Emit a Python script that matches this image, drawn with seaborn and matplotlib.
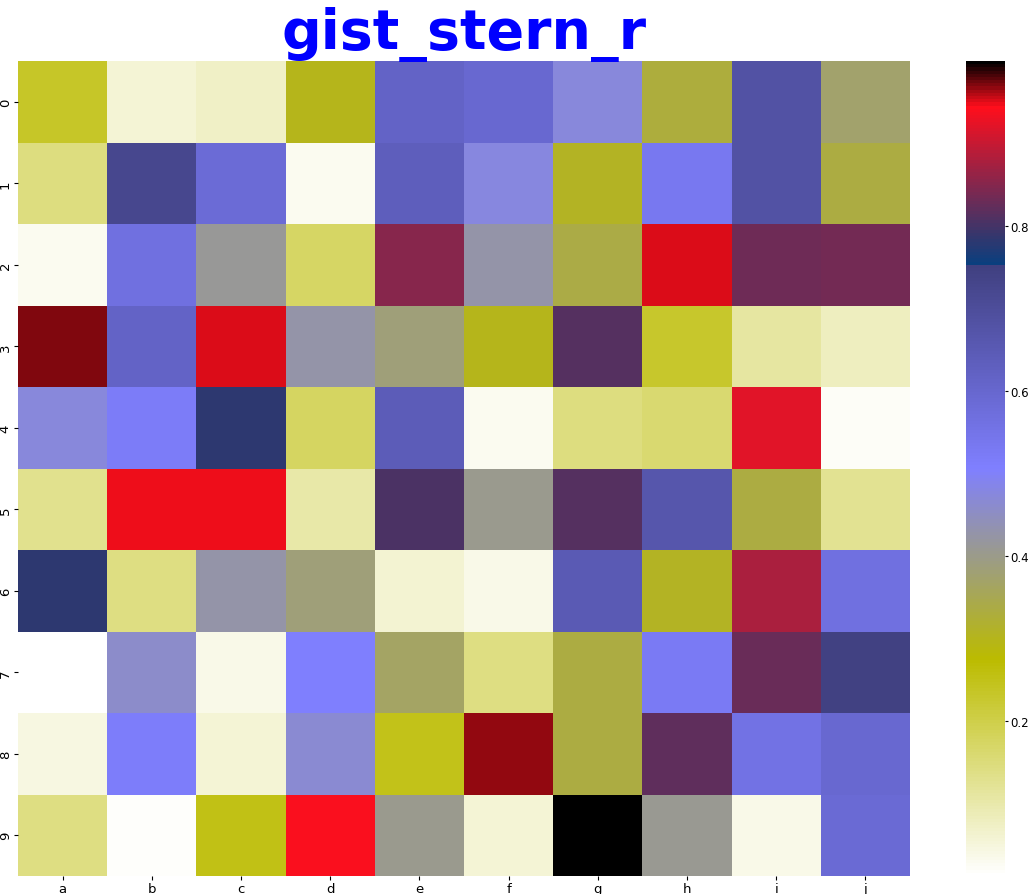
import numpy as np
import pandas as pd
import matplotlib
matplotlib.use("Agg")
import matplotlib.pyplot as plt
import seaborn as sns

cols = list("abcdefghij")
rows = list(range(10))

row0 = [0.235, 0.059, 0.074, 0.299, 0.614, 0.595, 0.473, 0.329, 0.682, 0.372]
row1 = [0.146, 0.723, 0.585, 0.029, 0.634, 0.476, 0.309, 0.536, 0.682, 0.333]
row2 = [0.029, 0.565, 0.412, 0.171, 0.851, 0.427, 0.340, 0.950, 0.831, 0.836]
row3 = [0.970, 0.614, 0.950, 0.427, 0.383, 0.299, 0.812, 0.232, 0.112, 0.080]
row4 = [0.472, 0.520, 0.782, 0.178, 0.644, 0.029, 0.146, 0.163, 0.920, 0.023]
row5 = [0.131, 0.947, 0.947, 0.102, 0.806, 0.403, 0.814, 0.664, 0.333, 0.126]
row6 = [0.780, 0.141, 0.427, 0.386, 0.062, 0.039, 0.650, 0.309, 0.879, 0.565]
row7 = [0.013, 0.457, 0.039, 0.506, 0.365, 0.141, 0.333, 0.526, 0.826, 0.748]
row8 = [0.046, 0.516, 0.059, 0.467, 0.250, 0.966, 0.333, 0.819, 0.558, 0.595]
row9 = [0.141, 0.018, 0.255, 0.940, 0.403, 0.057, 0.999, 0.407, 0.039, 0.590]

df = pd.DataFrame([row0, row1, row2, row3, row4, row5, row6, row7, row8, row9],
                  index=rows, columns=cols)

fig = plt.figure(figsize=(10.29, 8.95), dpi=100)
ax = fig.add_axes([0.0175, 0.0201, 0.8669, 0.9106])
cax = fig.add_axes([0.9390, 0.0201, 0.0380, 0.9106])

sns.heatmap(df, cmap="gist_stern_r", ax=ax, cbar_ax=cax)

ax.set_title("gist_stern_r", fontsize=40, fontweight="bold", color="blue", pad=4)
ax.tick_params(length=3, pad=1.5, labelsize=9.5)
cax.tick_params(length=2.5, pad=1, labelsize=8.5)
plt.setp(ax.get_yticklabels(), rotation=90, va="center")
plt.setp(ax.get_xticklabels(), rotation=0)

fig.savefig("out.png", dpi=100)
